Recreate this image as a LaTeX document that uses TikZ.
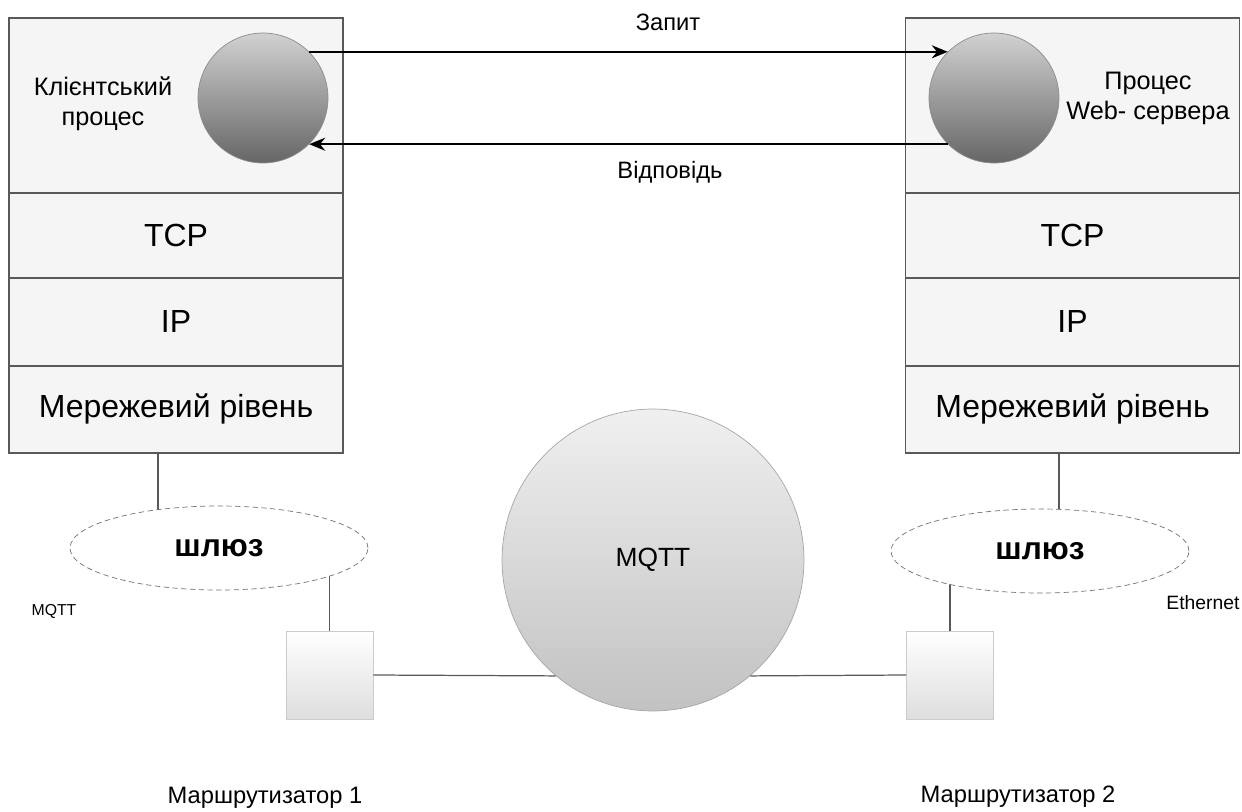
\documentclass[tikz,border=0pt]{standalone}
\usepackage{fontspec}
\setmainfont{Liberation Sans}
\usetikzlibrary{arrows.meta, positioning, shapes.geometric, backgrounds}

\begin{document}
\begin{tikzpicture}[x=0.02cm, y=-0.02cm,
    arr/.style={-{Stealth[length=3.2mm, width=2.6mm]}, line width=1.1pt},
    layer/.style={rectangle, draw=black!65, line width=0.9pt, fill=black!4, outer sep=0pt, minimum width=6.68cm, font=\fontsize{18.2}{20}\selectfont},
    proc/.style={circle, draw=black!45, minimum size=2.6cm, top color=black!18, bottom color=black!60},
    gate/.style={ellipse, draw=black!55, densely dashed, fill=white, minimum width=5.96cm, minimum height=1.68cm, font=\fontsize{18}{20}\selectfont\bfseries},
    router/.style={rectangle, draw=black!20, top color=white, bottom color=black!13, minimum width=1.74cm, minimum height=1.76cm},
    wire/.style={draw=black!65, line width=0.7pt},
    lbl/.style={font=\fontsize{14.4}{17}\selectfont, align=center},
    msg/.style={font=\fontsize{13.5}{16}\selectfont},
]
\useasboundingbox (0,0) rectangle (1242,812);

% Client stack
\node[layer, minimum height=3.5cm] (app1) at (176,105.5) {};
\node[layer, minimum height=1.7cm, below=0pt of app1] (tcp1) {TCP};
\node[layer, minimum height=1.76cm, below=0pt of tcp1] (ip1) {IP};
\node[layer, minimum height=1.74cm, below=0pt of ip1] (net1) {Мережевий рівень};
\node[proc] (cp) at (263,98) {};
\node[lbl] (cl) at (103,104) {Клієнтський\\процес};

% Server stack
\node[layer, minimum height=3.5cm] (app2) at (1072.5,105.5) {};
\node[layer, minimum height=1.7cm, below=0pt of app2] (tcp2) {TCP};
\node[layer, minimum height=1.76cm, below=0pt of tcp2] (ip2) {IP};
\node[layer, minimum height=1.74cm, below=0pt of ip2] (net2) {Мережевий рівень};
\node[proc] (sp) at (994,98) {};
\node[lbl] (sl) at (1148,98) {Процес\\Web- сервера};

% Request / response
\draw[arr] (cp.45) -- (sp.135);
\draw[arr] (sp.-135) -- (cp.-45);
\node[msg] (req) at (668,22) {Запит};
\node[msg] (resp) at (670,172) {Відповідь};

% Gateways, routers, network
\node[gate] (gw1) at (219,548) {шлюз};
\node[gate] (gw2) at (1040,551) {шлюз};
\node[router] (r1) at (329.5,675) {};
\node[router] (r2) at (950,675) {};
\node[circle, draw=black!35, minimum size=6.04cm, top color=black!6, bottom color=black!24, font=\fontsize{15}{17}\selectfont] (mq) at (653,560) {MQTT};

\begin{scope}[on background layer]
\draw[wire] ([xshift=-0.36cm]net1.south) -- ([xshift=-0.36cm]net1.south |- gw1.center);
\draw[wire] ([xshift=-0.27cm]net2.south) -- ([xshift=-0.27cm]net2.south |- gw2.center);
\draw[wire] (r1.north) -- (r1.north |- gw1.center);
\draw[wire] (r2.north) -- (r2.north |- gw2.center);
\end{scope}
\draw[wire] (r1.east) -- (mq.230);
\draw[wire] (mq.-50) -- (r2.west);

% Labels
\node[font=\fontsize{9}{10}\selectfont] (mqs) at (54,611) {MQTT};
\node[font=\fontsize{11}{12}\selectfont] (eth) at (1203,603) {Ethernet};
\node[font=\fontsize{13.5}{15}\selectfont] (rl1) at (265,798) {Маршрутизатор 1};
\node[font=\fontsize{13.5}{15}\selectfont] (rl2) at (1018,797) {Маршрутизатор 2};

\end{tikzpicture}
\end{document}
